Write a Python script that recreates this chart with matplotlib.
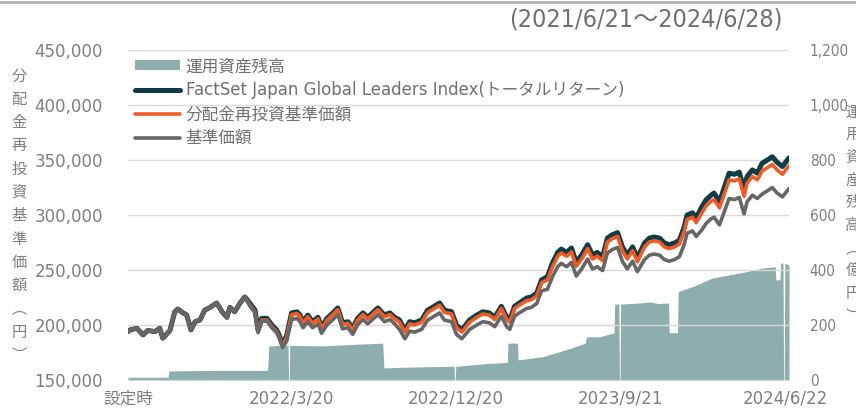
import numpy as np
import pandas as pd
import matplotlib
matplotlib.use("Agg")
from matplotlib import pyplot as plt
from matplotlib.patches import Patch
from matplotlib.lines import Line2D
import matplotlib.ticker as mticker

plt.rcParams['font.family'] = ['DejaVu Sans', 'Noto Sans CJK JP']

# ---- data (days since launch 2021/6/21) ----
start = pd.Timestamp('2021-06-21')
end = pd.Timestamp('2024-06-28')

line_days = [0, 3, 15, 25, 33, 45, 53, 58, 70, 78, 83, 92, 98, 105, 112, 120, 128, 137, 148, 157,
             165, 170, 178, 187, 195, 203, 212, 217, 223, 232, 240, 248, 252, 258, 265, 273, 282, 287,
             292, 300, 308, 317, 323, 332, 342, 350, 358, 367, 375, 383, 392, 400, 408, 417, 428, 437,
             445, 453, 462, 470, 478, 490, 500, 508, 520, 528, 540, 548, 557, 570, 582, 592, 603, 612,
             623, 632, 637, 645, 653, 665, 673, 682, 690, 700, 708, 717, 723, 732, 740, 748, 757, 767,
             775, 783, 792, 800, 808, 817, 825, 833, 842, 850, 862, 870, 878, 887, 895, 903, 912, 920,
             928, 933, 942, 948, 957, 965, 973, 978, 987, 995, 1003, 1012, 1020, 1028, 1033, 1042,
             1050, 1058, 1067, 1075, 1083, 1092, 1103]

# FactSet Japan Global Leaders Index (total return), thousand yen
index_k = [194, 195.5, 197, 191, 195, 194, 197, 188, 195, 212, 214.5, 211, 209, 195.5, 203, 204.5,
           213.5, 216, 220, 212, 207, 216, 212, 220, 225.5, 220, 213.5, 195.5, 206, 206, 200, 195.5,
           191, 182, 191, 211, 212, 209, 203, 209, 203, 207, 198, 206, 211, 215.5, 202, 203, 197, 206,
           211, 207, 211, 215.5, 209, 211, 207, 204.5, 195.5, 203, 202, 204.5, 213.5, 216, 220, 213.5,
           212, 200, 195.5, 204.5, 209, 212, 211, 207, 217, 207, 204.5, 217, 220, 224.5, 225.5, 229,
           241, 244, 256, 266, 269, 266, 270, 257, 263.7, 273, 263.7, 266, 262, 279, 282, 284, 271,
           263.7, 271, 261, 274.6, 279, 280, 279, 274.6, 273, 274.6, 277, 289, 300, 302, 297, 307, 314,
           318, 320, 312, 325, 338, 337, 339, 323, 335, 341, 338, 347, 350, 353, 348, 344, 352]

# 分配金再投資基準価額
reinvest_k = [194, 195.5, 197, 191, 195, 194, 197, 188, 195, 212, 214.5, 211, 209, 195.5, 203, 204.5,
              213.5, 216, 220, 212, 207, 216, 212, 220, 225.5, 218.5, 212, 194, 204.5, 204.5, 198.5, 194,
              189.5, 180.5, 189.5, 209.5, 210.5, 207.5, 201.5, 207.5, 201.5, 205.5, 196.5, 204.5, 209.5,
              214, 200.5, 201.5, 195.5, 204.5, 209.5, 205.5, 209.5, 214, 207.5, 209.5, 205.5, 202.5,
              193.5, 201, 200, 202.5, 211.5, 214, 218, 211.5, 210, 198, 193.5, 202.5, 207, 210, 209, 205,
              215, 205, 202.5, 215, 218, 222, 223, 226.5, 238.5, 241, 252.5, 262.5, 265.5, 262.5, 266.5,
              253.5, 260, 269.5, 260, 262.5, 258.5, 275.5, 278.5, 280.5, 267.5, 260, 267.5, 257.5, 271,
              275.5, 276.5, 275.5, 271, 269.5, 271, 273.5, 285, 296, 298, 293, 301.5, 308.5, 312.5, 314,
              306.5, 319, 332, 331, 333, 317, 329, 335, 332, 340, 343, 346, 341, 337, 345]

# 基準価額
nav_k = [194, 195.5, 197, 191, 195, 194, 197, 188, 195, 212, 214.5, 211, 209, 195.5, 203, 204.5,
         213.5, 216, 220, 212, 207, 216, 212, 220, 225.5, 217.5, 211, 193, 203.5, 203.5, 197.5, 193,
         188.5, 179.5, 185.5, 205, 206, 203, 197.5, 203, 197.5, 201, 192.5, 200, 205, 209.5, 196.5,
         197.5, 191.5, 200, 205, 201, 205, 209.5, 203, 205, 201, 196, 187.5, 194.5, 193.5, 196, 204.5,
         207, 211, 204.5, 203, 191.5, 187.5, 196, 200, 203, 202, 198.5, 208, 198.5, 196, 208, 211,
         215, 216, 219.5, 231, 232.5, 243.5, 253, 256, 253, 257, 244.5, 251, 260, 251, 253, 249.5,
         265.5, 268.5, 270.5, 258, 251, 258, 248.5, 259.5, 263.5, 264.5, 263.5, 259.5, 258, 259.5, 262,
         273, 283.5, 285.5, 280.5, 286, 292.5, 296.5, 298, 291, 303, 315, 314, 316, 301, 312, 318, 315,
         319, 322, 325, 320, 316.5, 324]

# 運用資産残高 (億円)
aum_days = [0, 67, 68, 150, 233, 235, 267, 268, 269, 270, 325, 380, 425, 427, 470, 544, 545, 546, 547,
            600, 633, 634, 650, 651, 692, 720, 745, 763, 765, 787, 808, 811, 812, 819, 820, 821, 822,
            853, 870, 885, 902, 903, 917, 918, 948, 975, 1003, 1032, 1058, 1080, 1081, 1088, 1089,
            1093, 1094, 1095, 1096, 1103]
aum = [10, 10, 33, 35, 35, 124, 127, 0, 0, 126, 124, 130, 134, 44, 47, 50, 0, 0, 50,
       60, 64, 134, 134, 73, 85, 103, 120, 134, 157, 157, 170, 170, 276, 276, 0, 0, 276,
       280, 284, 278, 280, 172, 172, 321, 345, 371, 382, 394, 407, 412, 364, 364, 425,
       425, 0, 0, 425, 418]

tick_dates = ['2021-06-21', '2022-03-20', '2022-12-20', '2023-09-21', '2024-06-22']
tick_labels = ['設定時', '2022/3/20', '2022/12/20', '2023/9/21', '2024/6/22']

left_label = ['分', '配', '金', '再', '投', '資', '基', '準', '価', '額', '︵', '円', '︶']
right_label = ['運', '用', '資', '産', '残', '高', '︵', '億', '円', '︶']

# ---- plot ----
line_dates = start + pd.to_timedelta(line_days, unit='D')
aum_dates = start + pd.to_timedelta(aum_days, unit='D')

fig = plt.figure(figsize=(8.56, 4.12), dpi=100)
ax = fig.add_axes([128 / 856, 1 - 380 / 412, 661 / 856, 330 / 412])
ax2 = ax.twinx()
ax.set_zorder(ax2.get_zorder() + 1)
ax.patch.set_visible(False)

teal = '#8eaeae'
dark = '#0f3d45'
orange = '#f15a24'
gray = '#666666'
txt = '#7f7f7f'

ax2.fill_between(aum_dates, aum, 0, color=teal, linewidth=0)
ax2.set_ylim(0, 1200)
ax2.set_yticks(range(0, 1201, 200))
ax2.yaxis.set_major_formatter(mticker.FuncFormatter(lambda v, p: f'{int(v):,}'))

ax.plot(line_dates, np.array(index_k) * 1000, color=dark, lw=3.6, solid_capstyle='round')
ax.plot(line_dates, np.array(reinvest_k) * 1000, color=orange, lw=2.6, solid_capstyle='round')
ax.plot(line_dates, np.array(nav_k) * 1000, color=gray, lw=2.6, solid_capstyle='round')

ax.set_ylim(150000, 450000)
ax.set_yticks(range(150000, 450001, 50000))
ax.yaxis.set_major_formatter(mticker.FuncFormatter(lambda v, p: f'{int(v):,}'))
ax.set_xlim(start, end)
ax.set_xticks(pd.to_datetime(tick_dates))
ax.set_xticklabels(tick_labels)
ax.grid(axis='y', color='#d9d9d9', lw=1)
ax.set_axisbelow(True)

for a in (ax, ax2):
    for s in a.spines.values():
        s.set_visible(False)
    a.tick_params(length=0)
ax.tick_params(axis='y', labelsize=12, labelcolor=txt, pad=18)
ax.tick_params(axis='x', labelsize=12, labelcolor=txt, pad=7)
ax2.tick_params(axis='y', labelcolor=txt, pad=15)
for lab in ax2.get_yticklabels():
    lab.set_family(['DejaVu Sans'])
    lab.set_stretch('condensed')
    lab.set_fontsize(11)

handles = [Patch(facecolor=teal, edgecolor='none'),
           Line2D([], [], color=dark, lw=3.6, solid_capstyle='round'),
           Line2D([], [], color=orange, lw=2.6, solid_capstyle='round'),
           Line2D([], [], color=gray, lw=2.6, solid_capstyle='round')]
labels = ['運用資産残高', 'FactSet Japan Global Leaders Index(トータルリターン)', '分配金再投資基準価額', '基準価額']
leg = fig.legend(handles, labels, loc='upper left', bbox_to_anchor=(135 / 856, 1 - 57 / 412),
                 frameon=False, fontsize=12, handlelength=2.7, handleheight=0.55, handletextpad=0.35,
                 labelspacing=0.36, borderpad=0, borderaxespad=0)
for t in leg.get_texts():
    t.set_color('#707070')

fig.text(783 / 856, 1 - 20 / 412, '(2021/6/21～2024/6/28)', ha='right', va='center', fontsize=18,
         color='#707070', family=['DejaVu Sans', 'Noto Sans CJK JP'], stretch='condensed')

for i, ch in enumerate(left_label):
    fig.text(19 / 856, 1 - (76 + i * 23.3) / 412, ch, ha='center', va='center', fontsize=11,
             color=txt, family=['Noto Sans CJK JP'])
for i, ch in enumerate(right_label):
    fig.text(853 / 856, 1 - (112 + i * 22.7) / 412, ch, ha='center', va='center', fontsize=11,
             color=txt, family=['Noto Sans CJK JP'])

fig.add_artist(Line2D([0, 1], [1 - 1.5 / 412, 1 - 1.5 / 412], transform=fig.transFigure,
                      color='#b0b0b0', lw=2))

fig.savefig('out.png', dpi=100)
